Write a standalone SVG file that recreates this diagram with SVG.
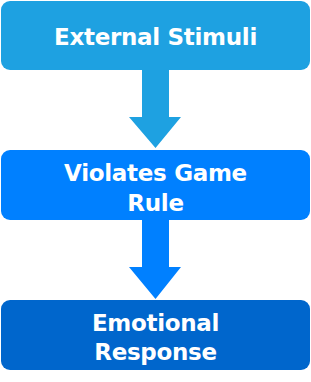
<svg xmlns="http://www.w3.org/2000/svg" width="311" height="382" viewBox="0 0 311 382">
<style>
.t{font-family:"DejaVu Sans","Verdana",sans-serif;font-weight:bold;font-size:23px;letter-spacing:-0.3px;fill:#fff;text-anchor:middle}
</style>
<rect width="311" height="382" fill="#fff"/>
<g id="connectors">
<polygon points="142,70 169,70 169,117 181,117 155.5,148 129,117 142,117" fill="#1EA1E1"/>
<polygon points="142,220 169,220 169,267 181,267 155.5,299 129,267 142,267" fill="#0080FF"/>
</g>
<g id="n1">
<rect x="1" y="1" width="309" height="69" rx="9" fill="#1EA1E1"/>
<text class="t" x="155.5" y="45">External Stimuli</text>
</g>
<g id="n2">
<rect x="1" y="150" width="309" height="70" rx="9" fill="#0080FF"/>
<text class="t" x="155.5" y="181">Violates Game</text>
<text class="t" x="155.5" y="211">Rule</text>
</g>
<g id="n3">
<rect x="1" y="300" width="309" height="70" rx="9" fill="#0066CC"/>
<text class="t" x="155.5" y="331">Emotional</text>
<text class="t" x="155.5" y="360">Response</text>
</g>
</svg>
